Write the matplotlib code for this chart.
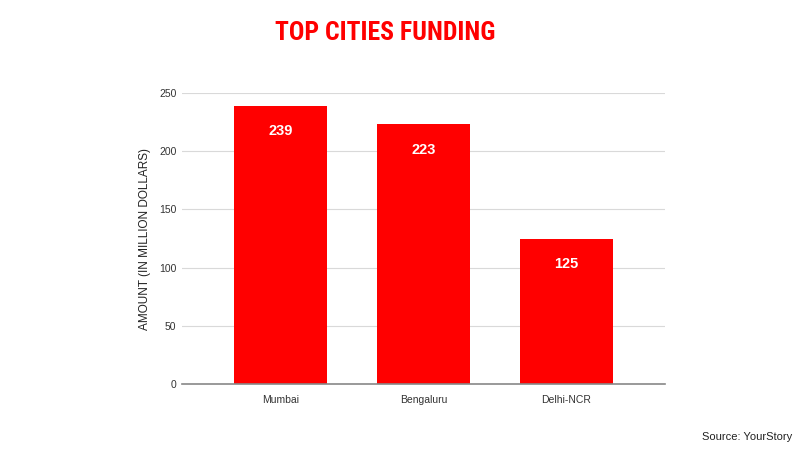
import matplotlib.pyplot as plt

plt.rcParams['font.family'] = ['Liberation Sans', 'DejaVu Sans']

cities = ["Mumbai", "Bengaluru", "Delhi-NCR"]
funding = [239, 223, 125]
yticks = [0, 50, 100, 150, 200, 250]

fig = plt.figure(figsize=(8, 4.5), dpi=100)
ax = fig.add_axes([0.2275, 0.1467, 0.6035, 0.6466])

x = range(len(cities))
bars = ax.bar(x, funding, width=0.65, color="#ff0000", zorder=3)
for b, v in zip(bars, funding):
    ax.text(b.get_x() + b.get_width() / 2, v - 22, str(v), ha="center", va="center",
            color="white", fontsize=10.5, fontweight="bold", zorder=4)

ax.set_xlim(-0.69, 2.69)
ax.set_ylim(0, 250)
ax.set_yticks(yticks)
ax.set_xticks(list(x))
ax.set_xticklabels(cities)
ax.grid(axis="y", color="#d9d9d9", linewidth=0.8, zorder=0)
for s in ["top", "right", "left"]:
    ax.spines[s].set_visible(False)
ax.spines["bottom"].set_color("#888888")
ax.spines["bottom"].set_linewidth(1.2)
ax.spines["bottom"].set_zorder(5)
ax.tick_params(axis="both", length=0, labelsize=7.5, labelcolor="#333333")
ax.tick_params(axis="x", pad=8)
ax.tick_params(axis="y", pad=4)
ax.set_ylabel("AMOUNT (IN MILLION DOLLARS)", fontsize=8.5, color="#222222", labelpad=6)

# condensed bold title, close to the original's look
fig.text(0.482, 0.926, "TOP CITIES FUNDING", ha="center", va="center", color="#ff0000",
         fontsize=18.5, fontweight="bold", fontstretch="condensed",
         family=["Roboto Condensed", "Roboto"])
fig.text(0.99, 0.03, "Source: YourStory", ha="right", va="center", fontsize=8, color="#222222")

fig.savefig("out.png", dpi=100)
